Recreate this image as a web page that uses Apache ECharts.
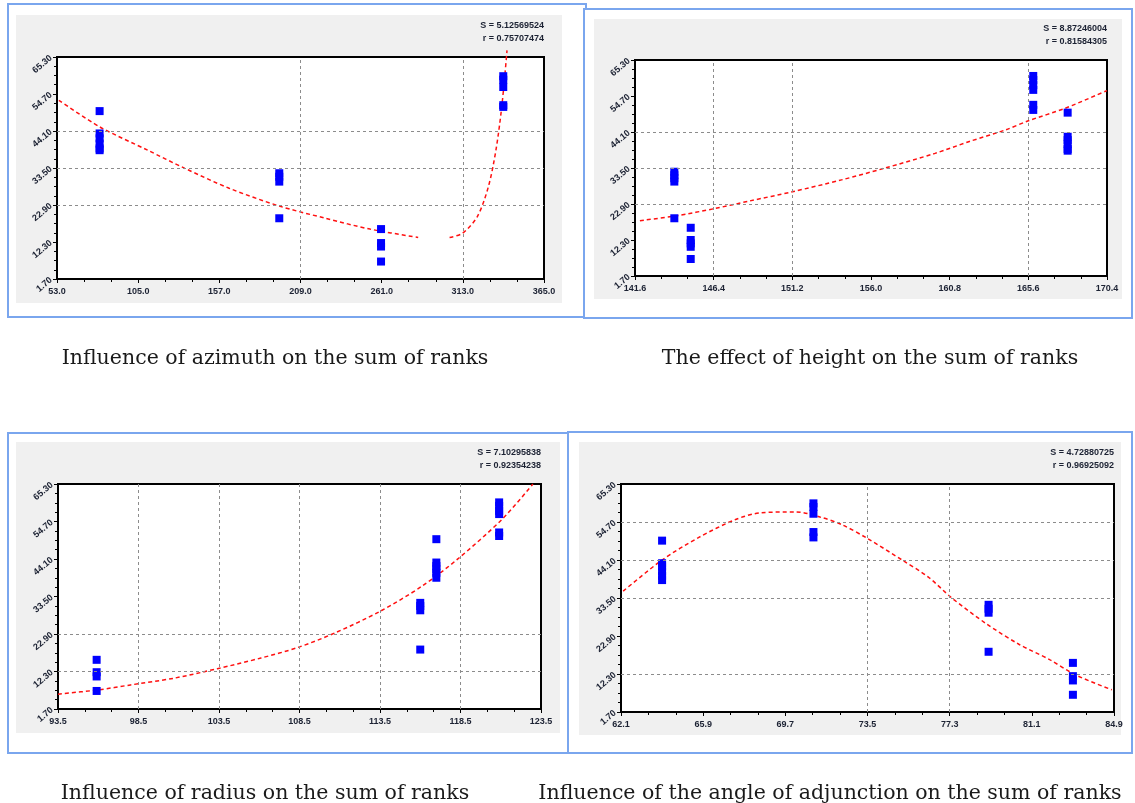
<!DOCTYPE html>
<html>
<head>
<meta charset="utf-8">
<script src="https://cdn.jsdelivr.net/npm/echarts@6/dist/echarts.min.js"></script>
<style>
  html, body { margin: 0; padding: 0; background: #ffffff; }
  #chart { width: 1135px; height: 803px; }
</style>
</head>
<body>
<div id="chart"></div>
<script>
// Shared rank-sum axis
const rankMin = 1.7;
const rankMax = 65.3;
const rankStep = 10.6;

// Panel 1: azimuth
const azimuthAxis = { min: 53.0, max: 365.0, step: 52.0 };
const azimuthPointX = [80.3, 80.3, 80.3, 80.3, 80.3, 80.3, 195.4, 195.4, 195.4, 195.4, 260.6, 260.6, 260.6, 260.6, 338.9, 338.9, 338.9, 338.9, 338.9];
const azimuthPointY = [49.8, 43.4, 42.0, 40.5, 39.1, 38.6, 32.0, 31.0, 29.6, 19.1, 16.0, 12.0, 11.0, 6.7, 59.8, 58.8, 56.7, 51.5, 51.0];
const azimuthCurveX = [54.2, 80.3, 111.1, 134.9, 163.3, 195.4, 225.0, 253.5, 284.4, 294.0, 304.5, 312.8, 322.3, 329.4, 334.2, 337.7, 340.1, 341.3];
const azimuthCurveY = [52.9, 45.3, 38.6, 33.4, 27.7, 22.6, 19.1, 16.0, 13.6, null, 13.6, 14.8, 19.6, 28.2, 38.6, 50.1, 61.0, 67.2];
const azimuthGridX = [209.0, 313.0];
const azimuthGridY = [44.1, 33.5, 22.9];
const azimuthStats = ['S = 5.12569524', 'r = 0.75707474'];

// Panel 2: height
const heightAxis = { min: 141.6, max: 170.4, step: 4.8 };
const heightPointX = [144.0, 144.0, 144.0, 144.0, 144.0, 145.0, 145.0, 145.0, 145.0, 145.0, 165.9, 165.9, 165.9, 165.9, 165.9, 165.9, 168.0, 168.0, 168.0, 168.0, 168.0, 168.0];
const heightPointY = [32.4, 31.4, 30.5, 29.5, 18.7, 15.9, 12.3, 11.3, 10.3, 6.7, 60.6, 59.4, 57.9, 56.5, 52.1, 50.6, 49.8, 42.7, 41.7, 40.6, 39.1, 38.6];
const heightCurveX = [141.9, 144.1, 146.5, 148.6, 151.2, 154.2, 156.8, 159.9, 162.0, 164.2, 165.6, 167.85, 170.4];
const heightCurveY = [18.0, 19.4, 21.6, 23.8, 26.5, 30.0, 33.4, 37.8, 41.3, 44.7, 47.4, 51.1, 56.3];
const heightGridX = [146.4, 151.2, 165.6];
const heightGridY = [44.1, 33.5, 22.9];
const heightStats = ['S = 8.87246004', 'r = 0.81584305'];

// Panel 3: radius
const radiusAxis = { min: 93.5, max: 123.5, step: 5.0 };
const radiusPointX = [95.9, 95.9, 95.9, 95.9, 116.0, 116.0, 116.0, 116.0, 117.0, 117.0, 117.0, 117.0, 117.0, 117.0, 120.9, 120.9, 120.9, 120.9, 120.9, 120.9];
const radiusPointY = [15.6, 12.1, 10.9, 6.8, 31.7, 30.8, 29.6, 18.5, 49.7, 43.1, 42.1, 41.2, 40.2, 38.8, 60.1, 59.1, 57.7, 56.8, 51.6, 50.6];
const radiusCurveX = [93.5, 96.0, 98.0, 100.7, 103.4, 106.1, 108.4, 110.7, 113.5, 116.1, 118.3, 121.1, 123.0];
const radiusCurveY = [5.9, 7.1, 8.5, 10.4, 13.1, 16.1, 19.1, 23.2, 29.3, 36.4, 44.0, 55.4, 65.3];
const radiusGridX = [98.5, 103.5, 108.5, 113.5, 118.5];
const radiusGridY = [22.9, 12.3];
const radiusStats = ['S = 7.10295838', 'r = 0.92354238'];

// Panel 4: angle of adjunction
const angleAxis = { min: 62.1, max: 84.9, step: 3.8 };
const anglePointX = [64.0, 64.0, 64.0, 64.0, 64.0, 64.0, 71.0, 71.0, 71.0, 71.0, 71.0, 79.1, 79.1, 79.1, 79.1, 83.0, 83.0, 83.0, 83.0];
const anglePointY = [49.5, 43.2, 42.3, 40.9, 39.7, 38.5, 59.9, 58.9, 57.0, 51.9, 50.4, 31.6, 30.5, 29.4, 18.5, 15.4, 11.7, 10.5, 6.5];
const angleCurveX = [62.2, 64.0, 65.7, 67.4, 68.6, 70.2, 71.3, 72.3, 73.5, 75.1, 76.3, 77.4, 79.0, 80.5, 81.9, 83.1, 84.8];
const angleCurveY = [35.4, 44.1, 50.4, 55.4, 57.3, 57.5, 56.1, 54.0, 50.1, 44.1, 39.4, 33.5, 26.3, 20.6, 16.4, 12.1, 7.9];
const angleGridX = [73.5, 77.3];
const angleGridY = [54.7, 44.1, 33.5, 12.3];
const angleStats = ['S = 4.72880725', 'r = 0.96925092'];

const captions = [
  'Influence of azimuth on the sum of ranks',
  'The effect of height on the sum of ranks',
  'Influence of radius on the sum of ranks',
  'Influence of the angle of adjunction on the sum of ranks'
];

// Layout of the four panels (frame, grey backdrop, plot box, caption)
const panels = [
  { frame: [8, 4, 578, 313], back: [16, 15, 546, 288], grid: [57, 57, 487, 222], caption: [270, 343],
    axis: azimuthAxis, px: azimuthPointX, py: azimuthPointY, cx: azimuthCurveX, cy: azimuthCurveY,
    gx: azimuthGridX, gy: azimuthGridY, stats: azimuthStats, clip: false },
  { frame: [584, 9, 548, 309], back: [594, 19, 528, 280], grid: [635, 60, 472, 216], caption: [865, 343],
    axis: heightAxis, px: heightPointX, py: heightPointY, cx: heightCurveX, cy: heightCurveY,
    gx: heightGridX, gy: heightGridY, stats: heightStats, clip: true },
  { frame: [8, 433, 560, 320], back: [16, 442, 544, 291], grid: [58, 484, 483, 225], caption: [260, 778],
    axis: radiusAxis, px: radiusPointX, py: radiusPointY, cx: radiusCurveX, cy: radiusCurveY,
    gx: radiusGridX, gy: radiusGridY, stats: radiusStats, clip: true },
  { frame: [568, 432, 564, 321], back: [579, 442, 542, 293], grid: [621, 484, 493, 228], caption: [825, 778],
    axis: angleAxis, px: anglePointX, py: anglePointY, cx: angleCurveX, cy: angleCurveY,
    gx: angleGridX, gy: angleGridY, stats: angleStats, clip: true }
];

const labelFont = { fontFamily: 'Liberation Sans', fontSize: 9, fontWeight: 'bold', color: '#1c2233' };

const zip = (xs, ys) => xs.map((x, i) => [x, ys[i] === null ? '-' : ys[i]]);

const option = {
  animation: false,
  backgroundColor: '#ffffff',
  title: [],
  grid: [],
  xAxis: [],
  yAxis: [],
  series: [],
  graphic: []
};

panels.forEach((p, i) => {
  option.graphic.push({
    type: 'rect', z: -20, silent: true,
    shape: { x: p.frame[0], y: p.frame[1], width: p.frame[2], height: p.frame[3] },
    style: { fill: '#ffffff', stroke: '#7aa6ee', lineWidth: 2 }
  });
  option.graphic.push({
    type: 'rect', z: -10, silent: true,
    shape: { x: p.back[0], y: p.back[1], width: p.back[2], height: p.back[3] },
    style: { fill: '#f0f0f0' }
  });
  const right = p.grid[0] + p.grid[2];
  option.graphic.push({
    type: 'text', z: 5, silent: true,
    style: {
      x: right, y: p.grid[1] - 38, text: p.stats.join('\n'), align: 'right', verticalAlign: 'top',
      font: 'bold 9px "Liberation Sans"', fill: '#1c2233', lineHeight: 13
    }
  });

  option.title.push({
    text: captions[i], left: p.caption[0], top: p.caption[1], textAlign: 'center',
    textStyle: { fontFamily: 'DejaVu Serif', fontSize: 20.5, fontWeight: 'normal', color: '#1a1a1a' }
  });

  option.grid.push({
    left: p.grid[0], top: p.grid[1], width: p.grid[2], height: p.grid[3],
    show: true, backgroundColor: '#ffffff', borderColor: '#000000', borderWidth: 2
  });

  option.xAxis.push({
    type: 'value', gridIndex: i, min: p.axis.min, max: p.axis.max, interval: p.axis.step,
    axisLine: { show: true, onZero: false, lineStyle: { color: '#000', width: 2 } },
    axisTick: { show: true, length: 4, lineStyle: { color: '#000' } },
    minorTick: { show: true, splitNumber: 3, length: 3, lineStyle: { color: '#000' } },
    splitLine: { show: false },
    axisLabel: Object.assign({ margin: 8, formatter: v => v.toFixed(1) }, labelFont)
  });

  option.yAxis.push({
    type: 'value', gridIndex: i, min: rankMin, max: rankMax, interval: rankStep,
    axisLine: { show: true, onZero: false, lineStyle: { color: '#000', width: 2 } },
    axisTick: { show: true, length: 4, lineStyle: { color: '#000' } },
    minorTick: { show: true, splitNumber: 4, length: 3, lineStyle: { color: '#000' } },
    splitLine: { show: false },
    axisLabel: Object.assign({ margin: 6, rotate: 40, formatter: v => v.toFixed(2) }, labelFont)
  });

  option.series.push({
    type: 'scatter', xAxisIndex: i, yAxisIndex: i,
    data: zip(p.px, p.py),
    symbol: 'rect', symbolSize: 8,
    itemStyle: { color: '#0000ff', opacity: 1 },
    z: 4,
    markLine: {
      silent: true, symbol: ['none', 'none'], label: { show: false },
      lineStyle: { type: [3, 3], color: '#8c8c8c', width: 1 },
      data: p.gx.map(v => ({ xAxis: v })).concat(p.gy.map(v => ({ yAxis: v })))
    }
  });

  option.series.push({
    type: 'line', xAxisIndex: i, yAxisIndex: i,
    data: zip(p.cx, p.cy),
    showSymbol: false, smooth: 0.3, connectNulls: false, clip: p.clip,
    lineStyle: { color: '#ff1010', width: 1.5, type: [4, 3] },
    z: 3
  });
});

const chart = echarts.init(document.getElementById('chart'), null, { renderer: 'canvas' });
chart.setOption(option);
</script>
</body>
</html>
